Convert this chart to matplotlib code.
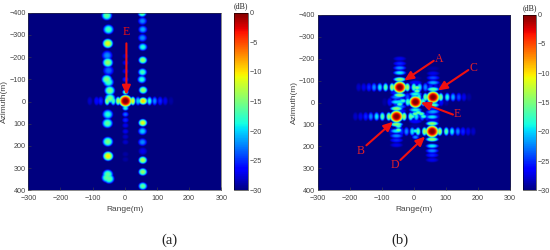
import numpy as np
import matplotlib
matplotlib.use("Agg")
import matplotlib.pyplot as plt

plt.rcParams['font.family'] = ['Liberation Sans', 'DejaVu Sans']

# ---- panel (a): lobes (position in m, level in dB)
a_left_x = [-55, -50, -52, -54, -52, -50, -55, -50, -46, -45, -52, -53, -52, -51, -52, -55, -48]
a_left_az = [-385, -322, -259, -205, -173, -137, -97, -85, -47, -12, 60, 100, 183, 248, 330, 345, 350]
a_left_db = [-16, -17, -11, -22, -14, -23, -15, -17, -15, -15, -18, -16, -15, -10, -16, -16, -16]
a_right_x = [55, 56, 57, 56, 57, 57, 56, 54, 58, 58, 57, 56, 56, 57, 57, 57, 57]
a_right_az = [-395, -360, -322, -284, -243, -184, -130, -97, -49, 0, 98, 136, 185, 226, 266, 319, 383]
a_right_db = [-16, -22, -21, -22, -18, -14, -17, -18, -14, -9, -11, -20, -22, -27, -13, -14, -16]
a_center_az = [-202, -172, -134, -97, -40, 32, 60, 86, 110, 137, 161, 185, 239, 263]
a_center_db = [-28, -27, -27, -25, -16, -18, -23, -25, -27, -27, -28, -28, -29, -29]
a_row_x = [-108, -87, -74, -54, -35, -20, 26, 42, 78, 94, 111, 127, 145]
a_row_db = [-28, -26, -25, -14, -17, -13, -11, -20, -18, -22, -25, -27, -29]

# ---- panel (b): the five targets and their sidelobes (offsets in m, level in dB)
b_x = [-46, -56, 58, 55, 3]
b_az = [-67, 66, -22, 134, 0]
b_side_trim = [0, 0, -2, 0, -4]
side_dx = [-128, -112, -96, -80, -62, -44, -24, 24, 44, 62, 80, 96, 112, 128]
side_dx_db = [-28, -27, -25, -22, -19, -16, -13, -13, -16, -19, -22, -25, -27, -28]
side_daz = [-130, -108, -88, -66, -36, 36, 66, 88, 108, 130]
side_daz_db = [-27, -25, -22, -19, -14, -14, -19, -22, -25, -27]
b_arc_x = [-8, 2, 12, 22, 28, -46, -36, -54, 8, 8, 3, 3, -50, -50]
b_arc_az = [66, 54, 48, 54, 66, 10, -5, 28, -65, -50, 132, 160, 128, 110]
b_arc_db = [-16, -15, -15, -16, -17, -16, -17, -16, -14, -15, -18, -22, -15, -17]

range_ticks = [-300, -200, -100, 0, 100, 200, 300]
az_ticks = [-400, -300, -200, -100, 0, 100, 200, 300, 400]
cbar_ticks = [0, -5, -10, -15, -20, -25, -30]

# ---- arrow labels (text, text pos, arrow tail, arrow head)
b_labels = ['A', 'B', 'C', 'D', 'E']
b_label_xy = [(80, -198), (-166, 219), (187, -157), (-59, 286), (135, 53)]
b_tail = [(62, -190), (-148, 195), (170, -148), (-42, 262), (122, 55)]
b_head = [(-30, -100), (-65, 88), (75, -55), (35, 155), (22, 0)]

rng_axis = np.linspace(-300, 300, 601)
az_axis = np.linspace(-400, 400, 801)
X, Y = np.meshgrid(rng_axis, az_axis)


def add_lobe(img, x0, y0, level, rx=9.0, ry=12.0, power=1.0):
    if level <= -30:
        return
    d2 = ((X - x0) / rx) ** 2 + ((Y - y0) / ry) ** 2
    field = level - (level + 30) * d2 ** power
    np.maximum(img, field, out=img)


img_a = np.full(X.shape, -30.0)
for x, az, db in zip(a_left_x, a_left_az, a_left_db):
    add_lobe(img_a, x, az, db, 18, 24, 1.2)
for x, az, db in zip(a_right_x, a_right_az, a_right_db):
    add_lobe(img_a, x, az, db, 15, 19, 1.2)
for az, db in zip(a_center_az, a_center_db):
    add_lobe(img_a, 3, az, db, 11, 13, 1.2)
for x, db in zip(a_row_x, a_row_db):
    add_lobe(img_a, x, 0, db, 9, 22, 1.2)
add_lobe(img_a, 3, 0, 0, 22, 30, 1.6)

img_b = np.full(X.shape, -30.0)
for tx, taz, trim in zip(b_x, b_az, b_side_trim):
    for dx, db in zip(side_dx, side_dx_db):
        add_lobe(img_b, tx + dx, taz, db + trim, 9, 22, 1.2)
    for daz, db in zip(side_daz, side_daz_db):
        add_lobe(img_b, tx, taz + daz, db + trim, 22, 12, 1.2)
for x, az, db in zip(b_arc_x, b_arc_az, b_arc_db):
    add_lobe(img_b, x, az, db, 12, 11, 1.2)
for tx, taz in zip(b_x, b_az):
    add_lobe(img_b, tx, taz, 0, 22, 30, 1.6)

fig = plt.figure(figsize=(5.5, 2.5), dpi=100, facecolor='white')
W, H = 550.0, 250.0


def rect(x0, y0, x1, y1):
    return [x0 / W, 1 - y1 / H, (x1 - x0) / W, (y1 - y0) / H]


tick_col = '#444444'


def panel(box, cbox, img, cap, cap_x):
    ax = fig.add_axes(rect(*box))
    im = ax.imshow(img, cmap='jet', vmin=-30, vmax=0, aspect='auto',
                   extent=[-300, 300, 400, -400], interpolation='bilinear')
    ax.set_xticks(range_ticks)
    ax.set_yticks(az_ticks)
    ax.tick_params(direction='in', length=2, width=0.4, labelsize=5.2,
                   colors=tick_col, pad=2)
    ax.tick_params(axis='x', pad=3.5)
    ax.set_xlabel('Range(m)', fontsize=6, color=tick_col, labelpad=2.5)
    ax.set_ylabel('Azimuth(m)', fontsize=6, color=tick_col, labelpad=0.5)
    for s in ax.spines.values():
        s.set_linewidth(0.4)
        s.set_color('#333333')
    cax = fig.add_axes(rect(*cbox))
    cb = fig.colorbar(im, cax=cax)
    cb.set_ticks(cbar_ticks)
    cax.tick_params(length=0, labelsize=5.2, colors=tick_col, pad=1.5)
    cb.outline.set_linewidth(0.4)
    fig.text((cbox[0] + cbox[2]) / 2 / W, 1 - (cbox[1] - 7) / H, '(dB)',
             family='Liberation Serif', fontsize=5.8, ha='center', va='center', color='#222222')
    fig.text(cap_x / W, 1 - 240.5 / H, cap, family='Liberation Serif', fontsize=10.5,
             ha='center', va='center', color='#222222')
    return ax


ax_a = panel((28.3, 12.7, 221.3, 190.3), (233.7, 12.7, 247.7, 190.3), img_a, '(a)', 169)
ax_b = panel((317.7, 14.7, 510, 190.3), (522.7, 14.7, 536, 190.3), img_b, '(b)', 400)

red = '#f01010'
arrow = dict(arrowstyle='-|>,head_width=0.25,head_length=0.55', color=red, lw=1.5,
             shrinkA=0, shrinkB=0)
ax_a.annotate('', xy=(5, -30), xytext=(5, -262), arrowprops=arrow)
ax_a.text(5, -315, 'E', color=red, family='Liberation Serif', fontsize=8.5, ha='center', va='center')
for lab, pos, tail, head in zip(b_labels, b_label_xy, b_tail, b_head):
    ax_b.annotate('', xy=head, xytext=tail, arrowprops=arrow)
    ax_b.text(pos[0], pos[1], lab, color='#e0202a', family='Liberation Serif', fontsize=8.5,
              ha='center', va='center')

fig.savefig('out.png', dpi=100)
